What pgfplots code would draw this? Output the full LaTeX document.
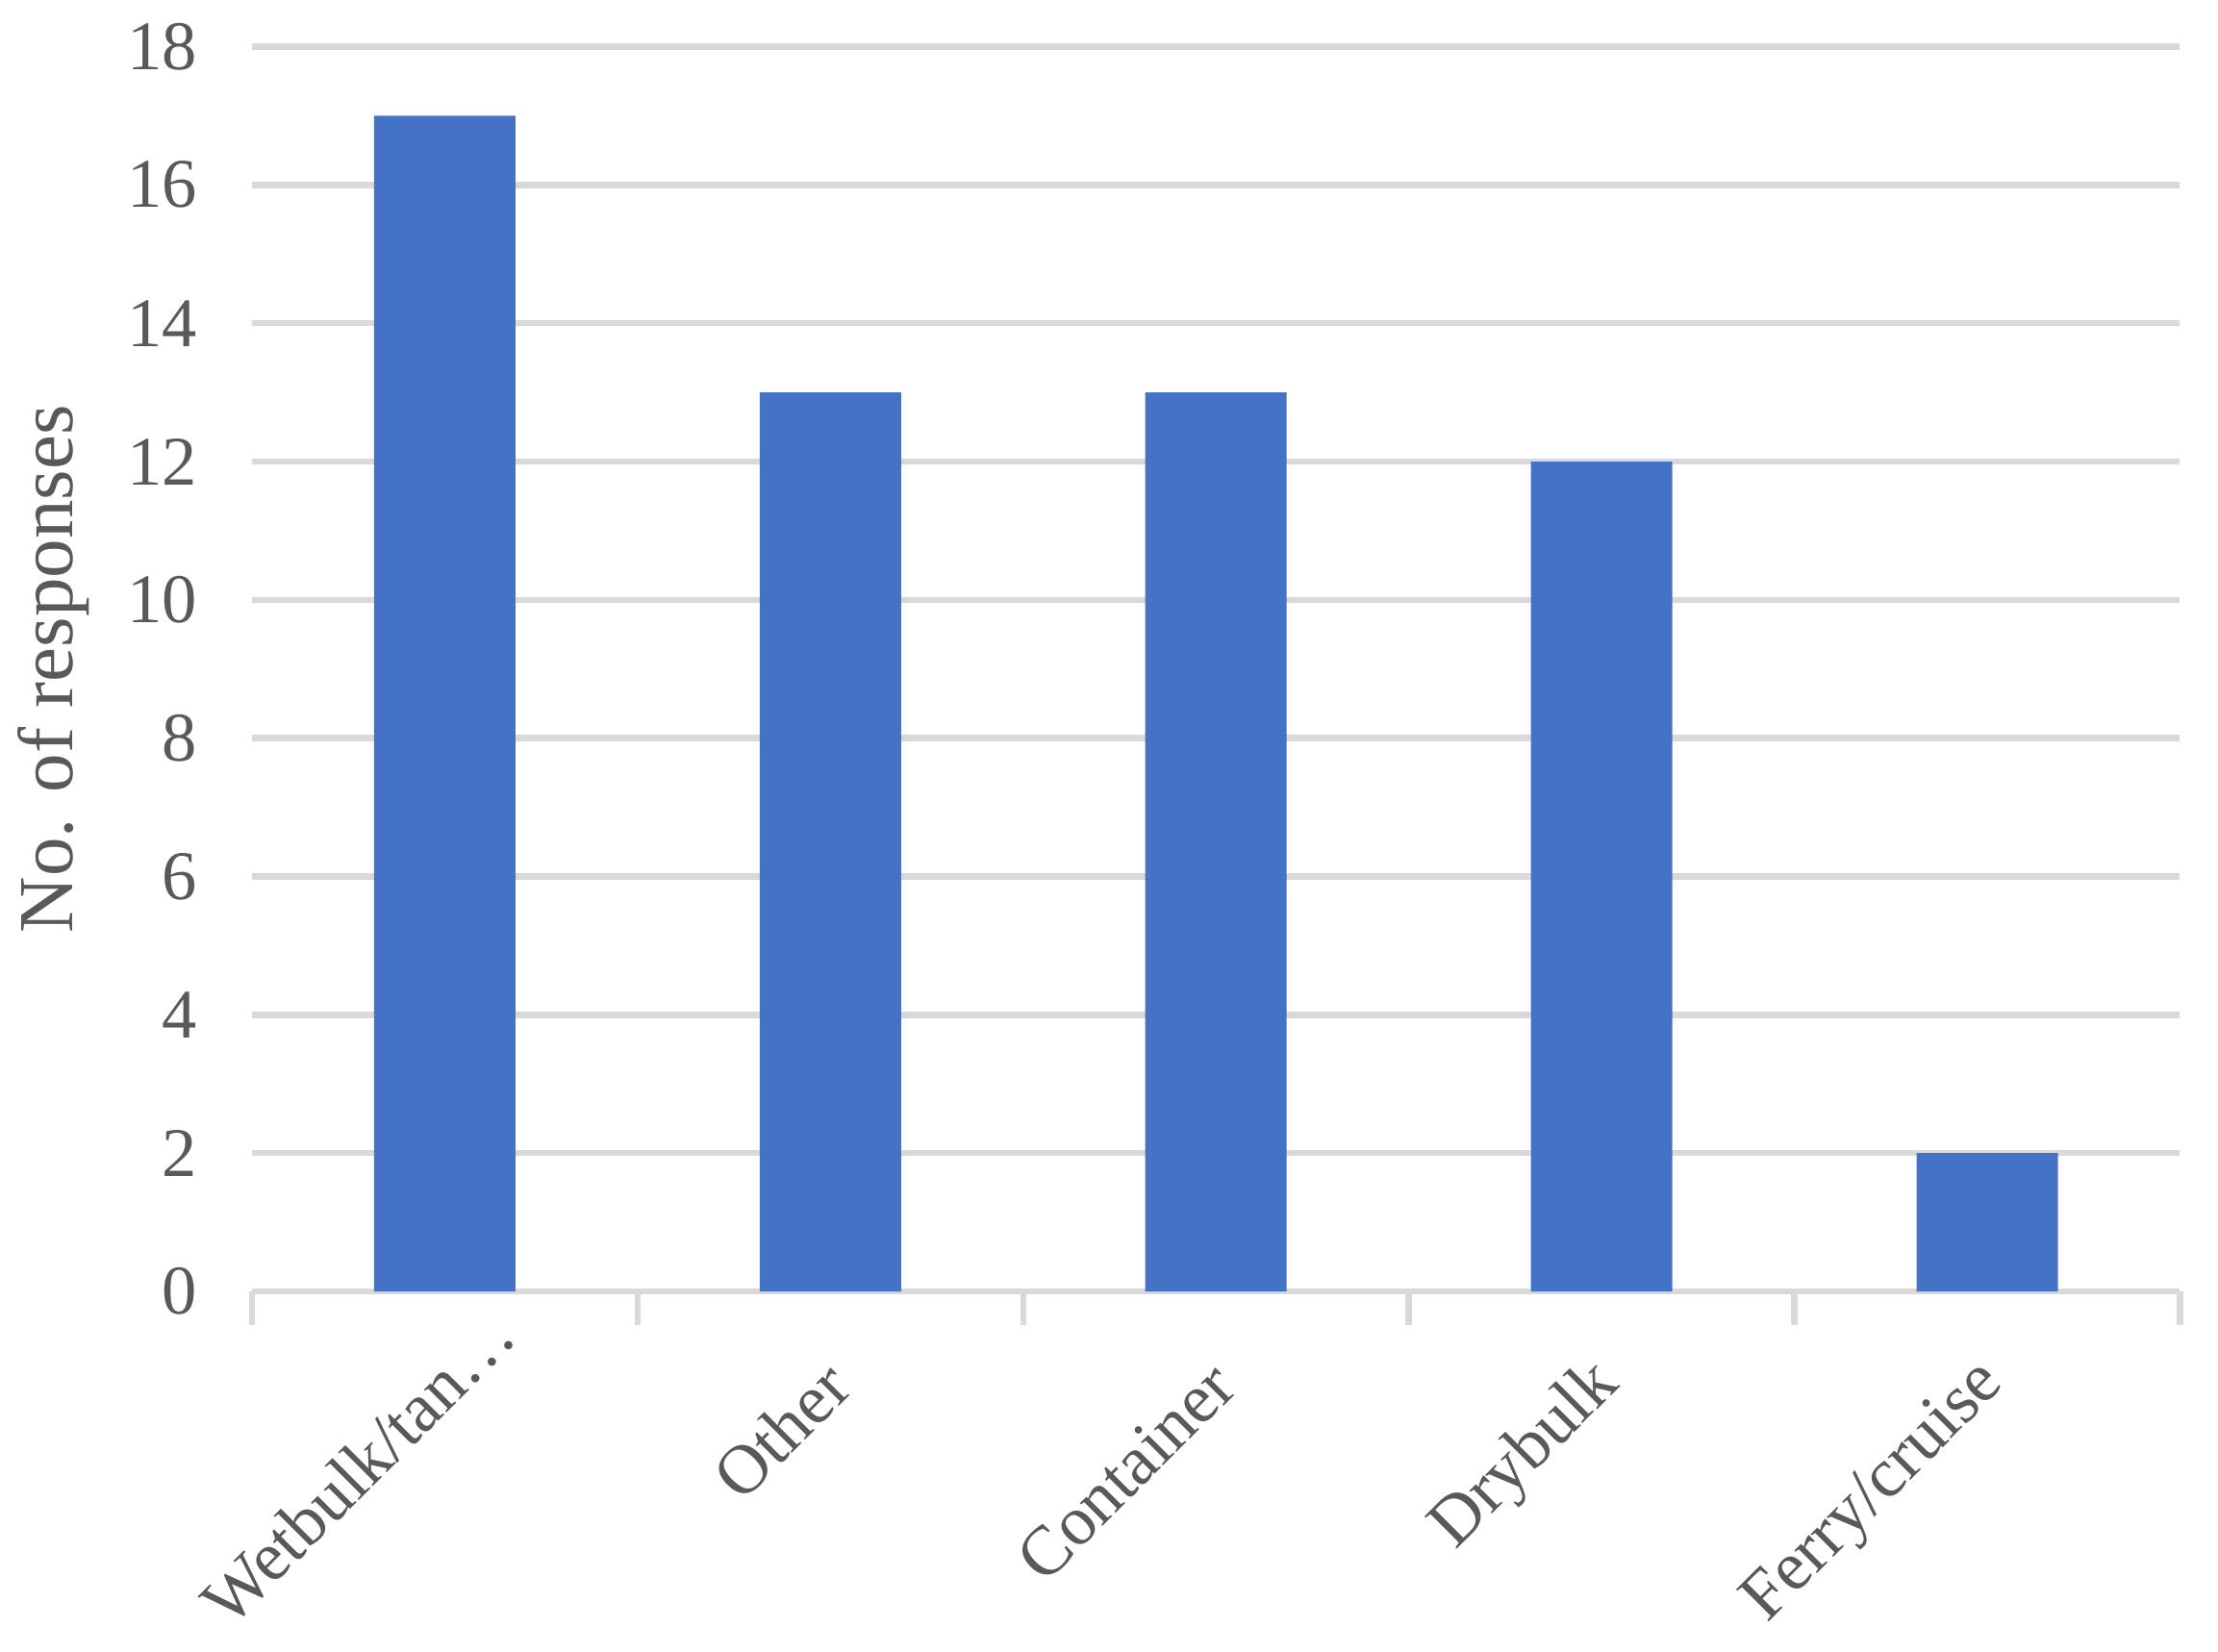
\documentclass[border=0pt]{standalone}
\usepackage{fontspec}
\setmainfont{Liberation Serif}
\usepackage{pgfplots}
\pgfplotsset{compat=1.18}
\definecolor{barblue}{HTML}{4472C4}
\definecolor{gridgray}{HTML}{D9D9D9}
\definecolor{txtgray}{HTML}{595959}
\begin{document}
\begin{tikzpicture}
\useasboundingbox (-52.4pt,-74.8pt) rectangle (408.8pt,268.6pt);
\begin{axis}[
    at={(0,0)}, anchor=south west,
    scale only axis, width=400.9pt, height=258.9pt,
    ybar, bar width=29.4pt,
    xmin=0.5, xmax=5.5, ymin=0, ymax=18,
    ytick={0,2,...,18},
    xtick={1,...,5},
    xticklabels={Wetbulk/tan…\hspace*{-15pt},Other,Container,Drybulk,Ferry/cruise},
    minor xtick={0.5,1.5,...,5.5},
    xtick pos=left, ytick pos=left,
    tick align=outside,
    major tick length=0pt, minor tick length=7pt,
    xtick style={draw=none}, ytick style={draw=none},
    minor x tick style={draw=gridgray, line width=1.3pt},
    axis line style={draw=none},
    ymajorgrids, major grid style={draw=gridgray, line width=1.3pt},
    /pgf/number format/assume math mode=true,
    tick label style={font=\fontsize{14.5}{17}\selectfont, text=txtgray},
    yticklabel style={xshift=-7.9pt},
    xticklabel style={xshift=3.95pt, yshift=-14.75pt, rotate=45, anchor=east},
    ylabel={No. of responses},
    ylabel style={at={(axis description cs:-0.1028,0.5)}, anchor=center, rotate=0,
        font=\fontsize{16.2}{19}\selectfont, text=txtgray},
]
\addplot[fill=barblue, draw=none] coordinates {(1,17) (2,13) (3,13) (4,12) (5,2)};
\end{axis}
\end{tikzpicture}
\end{document}
